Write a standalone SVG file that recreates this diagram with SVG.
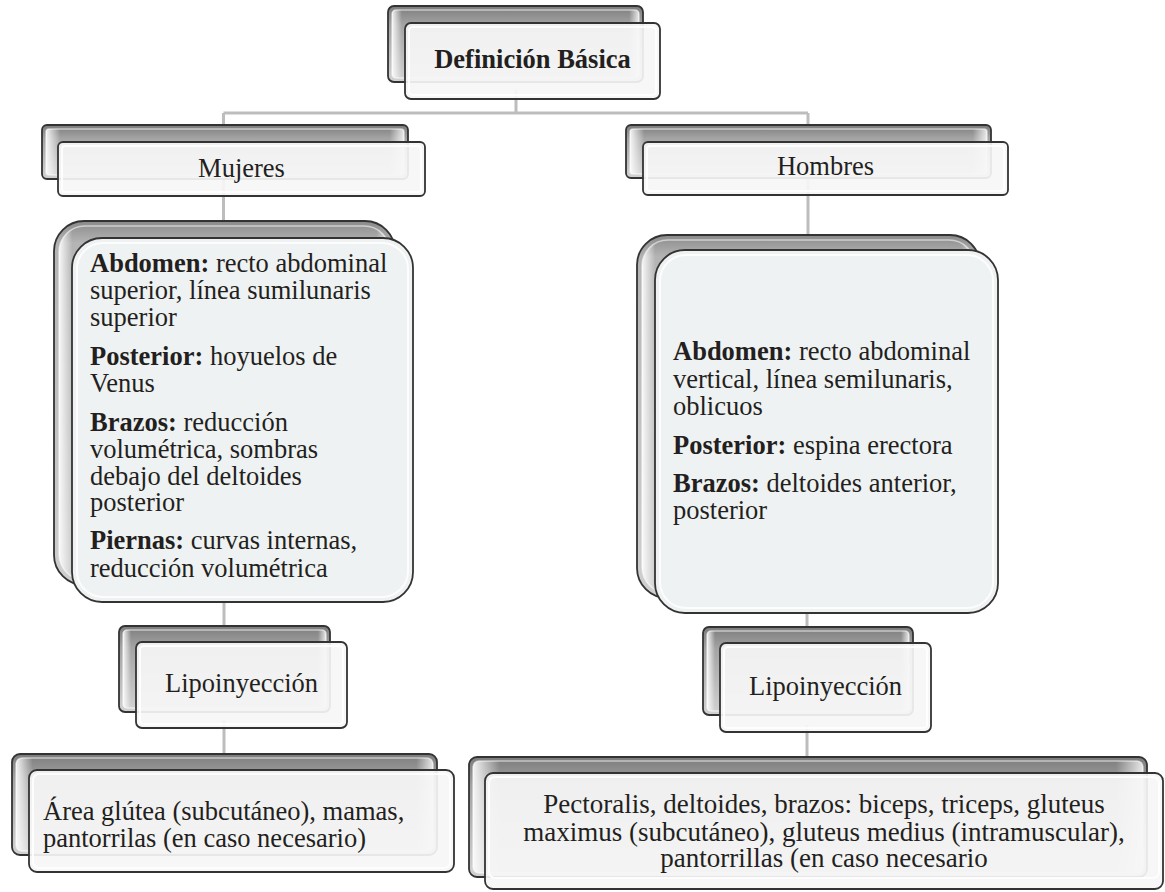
<svg xmlns="http://www.w3.org/2000/svg" width="1165" height="892" viewBox="0 0 1165 892">
<defs>
<linearGradient id="gBack" x1="0" y1="0" x2="0" y2="1">
<stop offset="0" stop-color="#7c7c7c"/>
<stop offset="0.25" stop-color="#a4a4a4"/>
<stop offset="1" stop-color="#d2d2d2"/>
</linearGradient>
<linearGradient id="gBackBig" x1="0" y1="0" x2="0" y2="1">
<stop offset="0" stop-color="#8a8a8a"/>
<stop offset="0.06" stop-color="#b4b4b4"/>
<stop offset="1" stop-color="#cfcfcf"/>
</linearGradient>
<linearGradient id="gSide" x1="0" y1="0" x2="1" y2="0">
<stop offset="0" stop-color="#ffffff" stop-opacity="0.9"/>
<stop offset="0.04" stop-color="#ffffff" stop-opacity="0"/>
<stop offset="0.96" stop-color="#ffffff" stop-opacity="0"/>
<stop offset="1" stop-color="#ffffff" stop-opacity="0.8"/>
</linearGradient>
</defs>
<style>
.back{fill:url(#gBack);stroke:#333;stroke-width:1.8}
.backbig{fill:url(#gBackBig);stroke:#333;stroke-width:1.8}
.bevel{fill:url(#gSide);stroke:#fff;stroke-opacity:0.55;stroke-width:1.5}
.front{fill:#f6f6f6;fill-opacity:0.92;stroke:#333;stroke-width:1.8}
.frontbig{fill:#eff2f2;stroke:#333;stroke-width:1.8}
.inner{fill:none;stroke:#fff;stroke-opacity:0.85;stroke-width:2}
.conn{stroke:#bdbdbd;stroke-width:3;fill:none}
text{font-family:"Liberation Serif","Times New Roman",serif;font-size:26.5px;fill:#231f20}
.b{font-weight:bold}
.c{text-anchor:middle}
</style>

<g id="connectors">
<path class="conn" d="M516 90 V113 M223.5 113 H808 M223.5 113 V238 M808 113 V250"/>
<path class="conn" d="M224 590 V640 M224 720 V770"/>
<path class="conn" d="M807 600 V643 M807 725 V773"/>
</g>

<g id="node-definicion">
<rect class="back" x="388" y="6" width="255" height="76" rx="6"/>
<rect class="bevel" x="392" y="10" width="247" height="68" rx="4"/>
<rect class="front" x="405" y="23" width="255" height="76" rx="6"/>
<rect class="inner" x="409" y="27" width="247" height="68" rx="4"/>
<text class="b c" x="532.5" y="68">Definición Básica</text>
</g>

<g id="node-mujeres">
<rect class="back" x="42" y="125" width="366" height="54" rx="5"/>
<rect class="bevel" x="46" y="129" width="358" height="46" rx="3"/>
<rect class="front" x="58" y="142" width="367" height="54" rx="5"/>
<rect class="inner" x="62" y="146" width="359" height="46" rx="3"/>
<text class="c" x="241.5" y="177">Mujeres</text>
</g>

<g id="node-hombres">
<rect class="back" x="626" y="125" width="365" height="53" rx="5"/>
<rect class="bevel" x="630" y="129" width="357" height="45" rx="3"/>
<rect class="front" x="643" y="142" width="365" height="53" rx="5"/>
<rect class="inner" x="647" y="146" width="357" height="45" rx="3"/>
<text class="c" x="825.5" y="175">Hombres</text>
</g>

<g id="node-mujeres-zonas">
<rect class="backbig" x="54" y="221" width="341" height="364" rx="30"/>
<rect class="bevel" x="59" y="226" width="331" height="354" rx="26"/>
<rect class="frontbig" x="72" y="238" width="341" height="364" rx="30"/>
<rect class="inner" x="77" y="243" width="331" height="354" rx="26"/>
<text x="90" y="272"><tspan class="b">Abdomen:</tspan> recto abdominal</text>
<text x="90" y="299">superior, línea sumilunaris</text>
<text x="90" y="326">superior</text>
<text x="90" y="365"><tspan class="b">Posterior:</tspan> hoyuelos de</text>
<text x="90" y="392">Venus</text>
<text x="90" y="431"><tspan class="b">Brazos:</tspan> reducción</text>
<text x="90" y="458">volumétrica, sombras</text>
<text x="90" y="485">debajo del deltoides</text>
<text x="90" y="511">posterior</text>
<text x="90" y="549"><tspan class="b">Piernas:</tspan> curvas internas,</text>
<text x="90" y="577">reducción volumétrica</text>
</g>

<g id="node-hombres-zonas">
<rect class="backbig" x="637" y="235" width="343" height="363" rx="30"/>
<rect class="bevel" x="642" y="240" width="333" height="353" rx="26"/>
<rect class="frontbig" x="655" y="250" width="343" height="363" rx="30"/>
<rect class="inner" x="660" y="255" width="333" height="353" rx="26"/>
<text x="673" y="360"><tspan class="b">Abdomen:</tspan> recto abdominal</text>
<text x="673" y="388">vertical, línea semilunaris,</text>
<text x="673" y="415">oblicuos</text>
<text x="673" y="454"><tspan class="b">Posterior:</tspan> espina erectora</text>
<text x="673" y="492"><tspan class="b">Brazos:</tspan> deltoides anterior,</text>
<text x="673" y="519">posterior</text>
</g>

<g id="node-lipo-mujeres">
<rect class="back" x="119" y="626" width="211" height="86" rx="6"/>
<rect class="bevel" x="123" y="630" width="203" height="78" rx="4"/>
<rect class="front" x="136" y="642" width="211" height="86" rx="6"/>
<rect class="inner" x="140" y="646" width="203" height="78" rx="4"/>
<text class="c" x="241.5" y="692">Lipoinyección</text>
</g>

<g id="node-lipo-hombres">
<rect class="back" x="703" y="627" width="210" height="88" rx="6"/>
<rect class="bevel" x="707" y="631" width="202" height="80" rx="4"/>
<rect class="front" x="720" y="643" width="211" height="89" rx="6"/>
<rect class="inner" x="724" y="647" width="203" height="81" rx="4"/>
<text class="c" x="825.5" y="695">Lipoinyección</text>
</g>

<g id="node-areas-mujeres">
<rect class="back" x="12" y="754" width="425" height="101" rx="8"/>
<rect class="bevel" x="16" y="758" width="417" height="93" rx="6"/>
<rect class="front" x="29" y="770" width="425" height="102" rx="8"/>
<rect class="inner" x="33" y="774" width="417" height="94" rx="6"/>
<text x="43" y="820">Área glútea (subcutáneo), mamas,</text>
<text x="43" y="847">pantorrilas (en caso necesario)</text>
</g>

<g id="node-areas-hombres">
<rect class="back" x="469" y="757" width="678" height="120" rx="8"/>
<rect class="bevel" x="473" y="761" width="670" height="112" rx="6"/>
<rect class="front" x="485" y="773" width="678" height="116" rx="8"/>
<rect class="inner" x="489" y="777" width="670" height="101" rx="6"/>
<text class="c" x="824" y="813" style="font-size:27px">Pectoralis, deltoides, brazos: biceps, triceps, gluteus</text>
<text class="c" x="824" y="841" style="font-size:27px">maximus (subcutáneo), gluteus medius (intramuscular),</text>
<text class="c" x="824" y="867" style="font-size:27px">pantorrillas (en caso necesario</text>
</g>
</svg>
